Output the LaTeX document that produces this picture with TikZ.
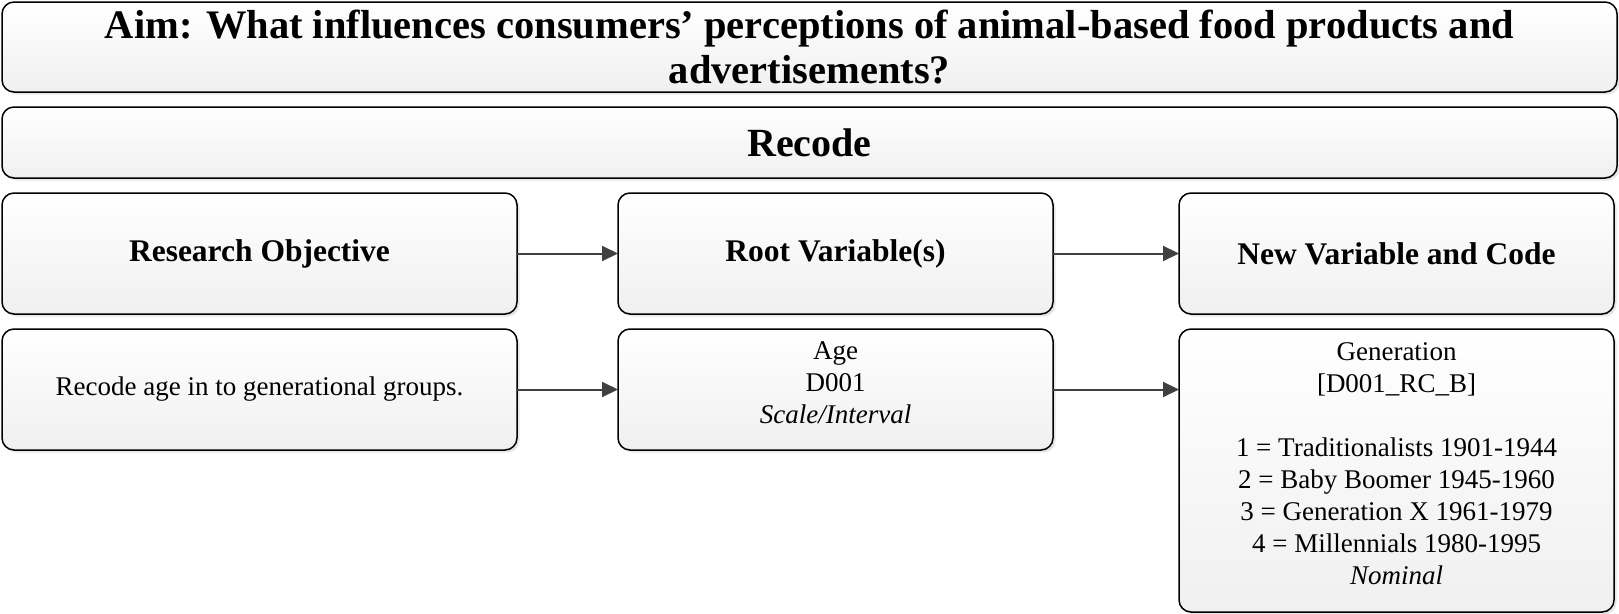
\documentclass[tikz,border=0pt]{standalone}
\usepackage{fontspec}
\setmainfont{Liberation Serif}
\usetikzlibrary{shadows,arrows.meta}
\definecolor{arrowgray}{HTML}{404040}
\begin{document}
\begin{tikzpicture}[x=1pt,y=-1pt,
  box/.style={draw=black, line width=1.5pt, rounded corners=12pt,
    top color=white, bottom color=black!6, inner sep=0pt, outer sep=0pt,
    anchor=north west, align=center,
    drop shadow={shadow xshift=2.5pt, shadow yshift=-2.5pt, opacity=0.2, fill=black!50}},
  titletext/.style={font=\fontsize{40.5}{45}\selectfont\bfseries},
  headtext/.style={font=\fontsize{31.5}{37}\selectfont\bfseries},
  bodytext/.style={font=\fontsize{27}{32}\selectfont, align=center},
  flow/.style={draw=arrowgray, line width=2pt,
    -{Triangle[length=16pt,width=15pt]}}]
\useasboundingbox (0,0) rectangle (1619,613);

% title and section banners
\node[box, minimum width=1615pt, minimum height=90pt, titletext] (aim) at (2,2)
  {Aim: What influences consumers’ perceptions of animal-based food products and\\advertisements?};
\node[box, minimum width=1615pt, minimum height=71pt,
  font=\fontsize{40}{48}\selectfont\bfseries] (recode) at (2,107) {Recode};

% column headers
\node[box, minimum width=515pt, minimum height=121pt, headtext] (ro) at (2,193) {Research Objective};
\node[box, minimum width=435pt, minimum height=121pt, headtext] (rv) at (618,193) {Root Variable(s)};
\node[box, minimum width=435pt, minimum height=121pt, headtext] (nv) at (1179,193) {New Variable and Code};

% content row
\node[box, minimum width=515pt, minimum height=121pt, bodytext] (ro2) at (2,329) {Recode age in to generational groups.};
\node[box, minimum width=435pt, minimum height=121pt] (rv2) at (618,329) {};
\node[box, minimum width=435pt, minimum height=283pt] (nv2) at (1179,329) {};
\node[bodytext, yshift=7pt] (rvtext) at (rv2.center) {Age\\D001\\\textit{Scale/Interval}};
\node[bodytext, yshift=7pt] (nvtext) at (nv2.center)
  {Generation\\{}[D001\_RC\_B]\\[32pt]
   1 = Traditionalists 1901-1944\\
   2 = Baby Boomer 1945-1960\\
   3 = Generation X 1961-1979\\
   4 = Millennials 1980-1995\\
   \textit{Nominal}};

% connectors
\draw[flow] (ro.east) -- (rv.west);
\draw[flow] (rv.east) -- (nv.west);
\draw[flow] (ro2.east) -- (rv2.west);
\draw[flow] (rv2.east) -- (rv2.east -| nv2.west);
\end{tikzpicture}
\end{document}
